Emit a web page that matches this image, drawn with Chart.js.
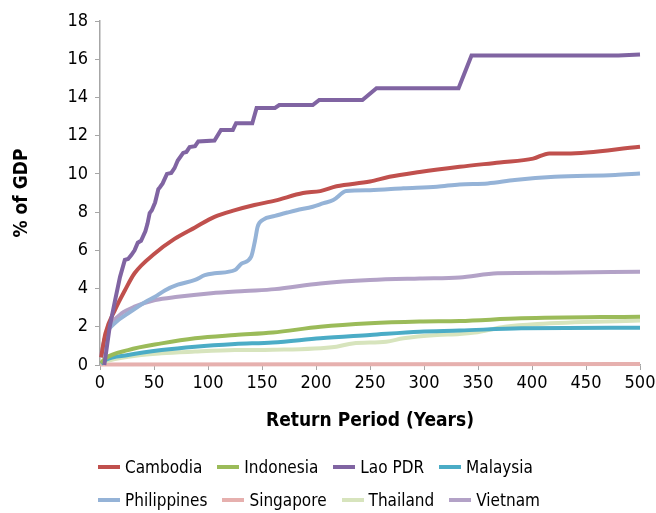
<!DOCTYPE html>
<html>
<head>
<meta charset="utf-8">
<script src="https://cdn.jsdelivr.net/npm/chart.js@4/dist/chart.umd.min.js"></script>
<style>
  body { margin: 0; background: #fff; }
  #wrap { position: relative; width: 656px; height: 513px; }
  #legend { position: absolute; left: 98px; top: 450px; font-family: "DejaVu Sans Condensed", sans-serif; font-size: 17px; color: #000; }
  .row { display: flex; height: 33px; align-items: center; }
  .item { display: flex; align-items: center; margin-right: 15px; }
  .sw { width: 22px; height: 4px; margin-right: 5px; }
</style>
</head>
<body>
<div id="wrap">
  <canvas id="grafica" width="656" height="513"></canvas>
  <div id="legend"></div>
</div>
<script>
// Paises y colores
const paises = ["Cambodia", "Indonesia", "Lao PDR", "Malaysia", "Philippines", "Singapore", "Thailand", "Vietnam"];
const colores = ["#c0504d", "#9bbb59", "#8064a2", "#4bacc6", "#95b3d7", "#e6b0ae", "#d7e4bd", "#b3a2c7"];

// Periodo de retorno (años) y % del PIB por pais
const cambodiaYears = [1, 5, 14, 23, 32, 51, 69, 88, 106, 125, 143, 162, 188, 204, 219, 250, 268, 296, 333, 370, 401, 416, 432, 500];
const cambodia = [0.4, 1.65, 2.9, 3.9, 4.8, 5.85, 6.6, 7.2, 7.75, 8.1, 8.37, 8.6, 9.0, 9.1, 9.35, 9.6, 9.85, 10.1, 10.37, 10.6, 10.8, 11.07, 11.07, 11.42];

const indonesiaYears = [1, 5, 26, 57, 88, 125, 160, 204, 250, 296, 333, 390, 500];
const indonesia = [0.1, 0.35, 0.78, 1.13, 1.4, 1.57, 1.7, 2.0, 2.18, 2.27, 2.3, 2.44, 2.53];

const laoYears = [4, 9, 14, 18.5, 23, 26, 29, 32, 35, 38, 42, 44, 46, 48, 51, 54, 55.5, 58, 62, 66, 69, 72, 77, 80, 83, 88, 91, 106, 112, 123, 126, 141, 145, 162, 166, 197, 203, 243, 256, 332, 344, 480, 500];
const lao = [0, 2.0, 3.4, 4.6, 5.5, 5.55, 5.75, 6.0, 6.4, 6.5, 7.0, 7.4, 7.95, 8.1, 8.5, 9.2, 9.3, 9.5, 10.0, 10.05, 10.3, 10.7, 11.1, 11.15, 11.4, 11.45, 11.7, 11.75, 12.3, 12.3, 12.65, 12.65, 13.45, 13.45, 13.6, 13.6, 13.87, 13.87, 14.48, 14.48, 16.2, 16.2, 16.25];

const malaysiaYears = [1, 5, 26, 57, 88, 125, 160, 204, 250, 296, 333, 390, 500];
const malaysia = [0.05, 0.26, 0.52, 0.78, 0.96, 1.1, 1.18, 1.4, 1.57, 1.74, 1.8, 1.92, 1.95];

const philippinesYears = [1, 5, 14, 26, 42, 51, 60, 72, 88, 97, 106, 125, 131, 140, 143.5, 146, 151, 162, 175, 182, 197, 207, 216, 228, 250, 281, 312, 333, 359, 384, 421, 477, 500];
const philippines = [0.4, 1.5, 2.2, 2.7, 3.3, 3.57, 3.9, 4.2, 4.45, 4.7, 4.8, 4.97, 5.3, 5.67, 6.5, 7.24, 7.6, 7.8, 8.0, 8.1, 8.28, 8.47, 8.63, 9.1, 9.15, 9.25, 9.33, 9.45, 9.5, 9.68, 9.85, 9.94, 10.02];

const singaporeYears = [0, 500];
const singapore = [0.03, 0.05];

const thailandYears = [1, 5, 26, 57, 88, 125, 160, 219, 234, 265, 281, 312, 333, 347, 375, 405, 500];
const thailand = [0.05, 0.17, 0.43, 0.61, 0.7, 0.78, 0.8, 0.96, 1.13, 1.22, 1.4, 1.57, 1.62, 1.7, 2.0, 2.15, 2.33];

const vietnamYears = [1, 5, 11, 20, 32, 51, 72, 103, 134, 162, 204, 250, 296, 333, 368, 421, 500];
const vietnam = [0.5, 1.5, 2.2, 2.7, 3.05, 3.4, 3.57, 3.75, 3.87, 3.97, 4.27, 4.45, 4.53, 4.58, 4.8, 4.83, 4.88];

// Ejes
const yTicks = [0, 2, 4, 6, 8, 10, 12, 14, 16, 18];
const xTicks = [0, 50, 100, 150, 200, 250, 300, 350, 400, 450, 500];

const series = [
    [cambodiaYears, cambodia],
    [indonesiaYears, indonesia],
    [laoYears, lao],
    [malaysiaYears, malaysia],
    [philippinesYears, philippines],
    [singaporeYears, singapore],
    [thailandYears, thailand],
    [vietnamYears, vietnam],
];

const fuente = "'DejaVu Sans Condensed', sans-serif";

// orden de dibujo: Lao y Camboya arriba
const orden = [2, 0, 4, 7, 1, 3, 6, 5];
const datasets = paises.map((p, i) => ({
    label: p,
    data: series[i][0].map((x, k) => ({ x: x, y: series[i][1][k] })),
    borderColor: colores[i],
    backgroundColor: colores[i],
    borderWidth: 4,
    pointRadius: 0,
    tension: i === 2 ? 0 : 0.3,
    cubicInterpolationMode: i === 2 ? 'default' : 'monotone',
    clip: 6,
    order: orden.indexOf(i),
}));

new Chart(document.querySelector("#grafica"), {
    type: 'line',
    data: { datasets: datasets },
    options: {
        responsive: false,
        animation: false,
        layout: { padding: { left: 11, right: 16, top: 21, bottom: 81 } },
        plugins: { legend: { display: false }, tooltip: { enabled: false } },
        scales: {
            x: {
                type: 'linear', min: 0, max: 500,
                afterBuildTicks: s => { s.ticks = xTicks.map(v => ({ value: v })); },
                afterFit: s => { s.height = 67; s.paddingLeft = 0; s.paddingRight = 0; },
                border: { color: '#a6a6a6', width: 1.5 },
                grid: { drawOnChartArea: false, drawTicks: true, tickLength: 5, color: '#a6a6a6' },
                ticks: { color: '#000', font: { family: fuente, size: 18 }, padding: 3, maxRotation: 0 },
                title: { display: true, text: 'Return Period (Years)', color: '#000', font: { family: fuente, size: 19, weight: 'bold' }, padding: { top: 6, bottom: 0 } },
            },
            y: {
                min: 0, max: 18,
                afterBuildTicks: s => { s.ticks = yTicks.map(v => ({ value: v })); },
                afterFit: s => { s.width = 89; },
                border: { color: '#a6a6a6', width: 1.5 },
                grid: { drawOnChartArea: false, drawTicks: true, tickLength: 5, color: '#a6a6a6' },
                ticks: { color: '#000', font: { family: fuente, size: 18 }, padding: 7 },
                title: { display: true, text: '% of GDP', color: '#000', font: { family: fuente, size: 19, weight: 'bold' }, padding: 0 },
            },
        },
    },
});

// Leyenda en dos filas
const $leg = document.querySelector("#legend");
[[0, 1, 2, 3], [4, 5, 6, 7]].forEach(fila => {
    const row = document.createElement("div");
    row.className = "row";
    fila.forEach(i => {
        const it = document.createElement("div");
        it.className = "item";
        it.innerHTML = '<span class="sw" style="background:' + colores[i] + '"></span>' + paises[i];
        row.appendChild(it);
    });
    $leg.appendChild(row);
});
</script>
</body>
</html>
